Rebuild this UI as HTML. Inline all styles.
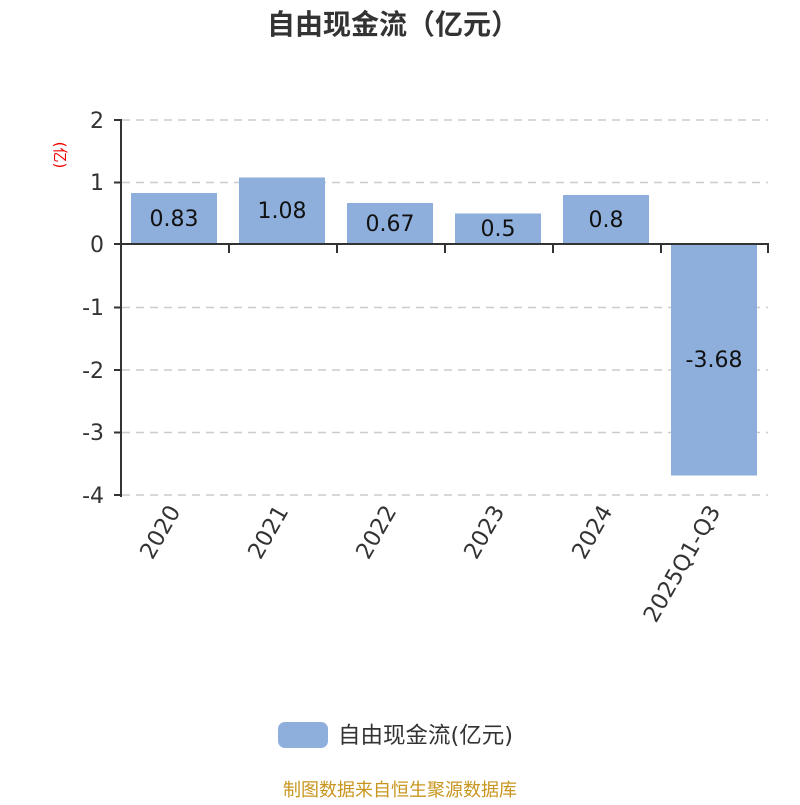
<!DOCTYPE html>
<html><head><meta charset="utf-8"><style>
html,body{margin:0;padding:0;background:#fff;}
svg text{font-family:"DejaVu Sans","Noto Sans CJK SC",sans-serif;}
</style></head><body>
<svg width="800" height="800" xmlns="http://www.w3.org/2000/svg">
<text x="393" y="34" text-anchor="middle" font-size="28" font-weight="bold" fill="#333">自由现金流（亿元）</text>
<text transform="translate(55,155) rotate(90)" text-anchor="middle" font-size="15" fill="#e00">(亿)</text>
<g stroke="#ccc" stroke-width="1.5" stroke-dasharray="8,6">
<line x1="122" y1="120" x2="768" y2="120"/>
<line x1="122" y1="182.5" x2="768" y2="182.5"/>
<line x1="122" y1="307.5" x2="768" y2="307.5"/>
<line x1="122" y1="370" x2="768" y2="370"/>
<line x1="122" y1="432.5" x2="768" y2="432.5"/>
<line x1="122" y1="495" x2="768" y2="495"/>
</g>
<g fill="#8eaedb">
<rect x="131" y="193" width="86" height="51"/>
<rect x="239" y="177.5" width="86" height="66.5"/>
<rect x="347" y="203" width="86" height="41"/>
<rect x="455" y="213.5" width="86" height="30.5"/>
<rect x="563" y="195" width="86" height="49"/>
<rect x="671" y="244" width="86" height="231.5"/>
</g>
<g stroke="#333" stroke-width="2">
<line x1="121" y1="119" x2="121" y2="497"/>
<line x1="114" y1="120" x2="121" y2="120"/>
<line x1="114" y1="182.5" x2="121" y2="182.5"/>
<line x1="114" y1="244" x2="121" y2="244"/>
<line x1="114" y1="307.5" x2="121" y2="307.5"/>
<line x1="114" y1="370" x2="121" y2="370"/>
<line x1="114" y1="432.5" x2="121" y2="432.5"/>
<line x1="114" y1="495" x2="121" y2="495"/>
<line x1="114" y1="244" x2="769" y2="244"/>
<line x1="229" y1="244" x2="229" y2="253"/>
<line x1="337" y1="244" x2="337" y2="253"/>
<line x1="445" y1="244" x2="445" y2="253"/>
<line x1="553" y1="244" x2="553" y2="253"/>
<line x1="661" y1="244" x2="661" y2="253"/>
<line x1="768" y1="244" x2="768" y2="253"/>
</g>
<g font-size="22" fill="#333" text-anchor="end">
<text x="104" y="128">2</text>
<text x="104" y="190">1</text>
<text x="104" y="252">0</text>
<text x="104" y="315">-1</text>
<text x="104" y="378">-2</text>
<text x="104" y="440">-3</text>
<text x="104" y="503">-4</text>
</g>
<g font-size="22" fill="#111" text-anchor="middle">
<text x="174" y="226">0.83</text>
<text x="282" y="218">1.08</text>
<text x="390" y="231">0.67</text>
<text x="498" y="236">0.5</text>
<text x="606" y="227">0.8</text>
<text x="714" y="367">-3.68</text>
</g>
<g font-size="22.5" fill="#333" text-anchor="end">
<text transform="translate(181,511) rotate(-60)">2020</text>
<text transform="translate(289,511) rotate(-60)">2021</text>
<text transform="translate(397,511) rotate(-60)">2022</text>
<text transform="translate(505,511) rotate(-60)">2023</text>
<text transform="translate(613,511) rotate(-60)">2024</text>
<text transform="translate(721,511) rotate(-60)">2025Q1-Q3</text>
</g>
<rect x="278" y="722" width="50" height="26" rx="7" fill="#8eaedb"/>
<text x="338" y="743" font-size="22.5" fill="#333">自由现金流(亿元)</text>
<text x="400" y="796" text-anchor="middle" font-size="18" fill="#c8961e">制图数据来自恒生聚源数据库</text>
</svg>
</body></html>
